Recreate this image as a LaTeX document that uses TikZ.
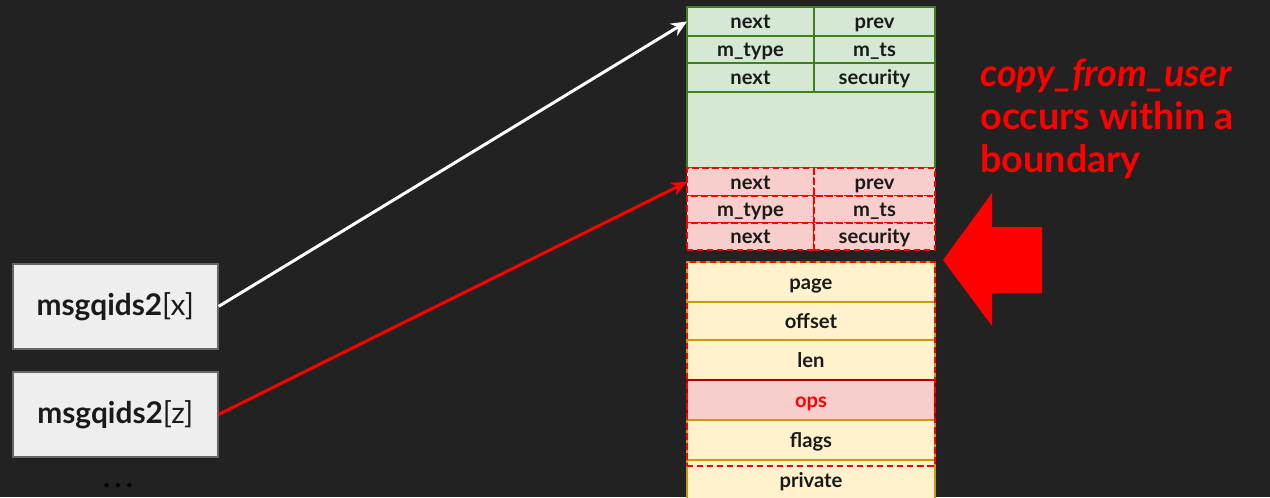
\documentclass[tikz,border=0pt]{standalone}
\usepackage{fontspec}
\setmainfont{Lato}
\usetikzlibrary{positioning}
\usetikzlibrary{arrows.meta}
\definecolor{bgdark}{HTML}{222222}
\definecolor{msgFill}{HTML}{D5E8D4}
\definecolor{msgLine}{HTML}{3F7F1F}
\definecolor{segFill}{HTML}{F8CECC}
\definecolor{segRed}{HTML}{FF0000}
\definecolor{pipeFill}{HTML}{FFF2CC}
\definecolor{pipeLine}{HTML}{C99A0C}
\definecolor{opsLine}{HTML}{B00000}
\definecolor{slotFill}{HTML}{EEEEEE}
\definecolor{slotLine}{HTML}{666666}
\definecolor{inkText}{HTML}{1A1A1A}
\tikzstyle{cell}=[draw,line width=1pt,inner sep=0pt,outer sep=0pt,anchor=north west,text=inkText,text height=8pt,text depth=0pt,font=\fontsize{11.5}{13}\selectfont\bfseries]
\tikzstyle{msgcell}=[cell,fill=msgFill,draw=msgLine]
\tikzstyle{segcell}=[cell,fill=segFill,draw=segRed,dash pattern=on 3.5pt off 2.2pt]
\tikzstyle{pipecell}=[cell,fill=pipeFill,draw=pipeLine,minimum width=4.96cm]
\tikzstyle{slot}=[draw=slotLine,fill=slotFill,line width=1pt,anchor=north west,minimum width=4.1cm,minimum height=1.7cm,text=inkText,font=\fontsize{17}{20}\selectfont]

\begin{document}
\begin{tikzpicture}[x=0.02cm,y=-0.02cm]
\useasboundingbox (0,0) rectangle (1270,497);
\fill[bgdark] (0,0) rectangle (1270,497);
% msg_msg
\node [msgcell,minimum width=4.96cm,minimum height=3.22cm] (msg) at (687,7) {};
\node [msgcell,minimum width=2.54cm,minimum height=0.58cm] (n1) at (687,7) {next};
\node [msgcell,minimum width=2.42cm,minimum height=0.58cm] (p1) at (814,7) {prev};
\node [msgcell,minimum width=2.54cm,minimum height=0.54cm] (t1) at (687,36) {m\_type};
\node [msgcell,minimum width=2.42cm,minimum height=0.54cm] (s1) at (814,36) {m\_ts};
\node [msgcell,minimum width=2.54cm,minimum height=0.58cm] (x1) at (687,63) {next};
\node [msgcell,minimum width=2.42cm,minimum height=0.58cm] (c1) at (814,63) {security};
% overflow into next object
\node [segcell,minimum width=2.54cm,minimum height=0.56cm] (n2) at (687,168) {next};
\node [segcell,minimum width=2.42cm,minimum height=0.56cm] (p2) at (814,168) {prev};
\node [segcell,minimum width=2.54cm,minimum height=0.54cm] (t2) at (687,196) {m\_type};
\node [segcell,minimum width=2.42cm,minimum height=0.54cm] (s2) at (814,196) {m\_ts};
\node [segcell,minimum width=2.54cm,minimum height=0.54cm] (x2) at (687,223) {next};
\node [segcell,minimum width=2.42cm,minimum height=0.54cm] (c2) at (814,223) {security};
% pipe_buffer
\node [pipecell,minimum height=0.8cm] (page) at (687,262) {page};
\node [pipecell,minimum height=0.76cm] (offset) at (687,302) {offset};
\node [pipecell,minimum height=0.8cm] (len) at (687,340) {len};
\node [pipecell,minimum height=0.8cm,fill=segFill,draw=opsLine,text=segRed] (ops) at (687,380) {ops};
\node [pipecell,minimum height=0.8cm] (flags) at (687,420) {flags};
\node [pipecell,minimum height=0.8cm] (private) at (687,460) {private};
\node [cell,draw=segRed,dash pattern=on 3.5pt off 2.2pt,minimum width=4.96cm,minimum height=4.08cm] (bound) at (687,262) {};
% queues
\node [slot] (qx) at (12,263) {\textbf{msgqids2}[x]};
\node [slot] (qz) at (12,371) {\textbf{msgqids2}[z]};
\node [text=black,font=\fontsize{16}{19}\selectfont\bfseries] (dots) at (118,486) {.\,.\,.};
\draw [white,line width=1.7pt,-{Stealth[length=9pt,width=8pt]}] (qx.east) -- (n1.west);
\draw [segRed,line width=1.7pt,-{Stealth[length=9pt,width=8pt]}] (qz.east) -- (n2.west);
% big arrow
\fill[segRed] (943,260) -- (992,193) -- (992,227) -- (1042,227) -- (1042,293) -- (992,293) -- (992,326) -- cycle;
\node [anchor=north west,align=left,text=segRed,inner sep=0pt,font=\fontsize{21.5}{24.5}\selectfont\bfseries] (note) at (980,58) {\textit{copy\_from\_user}\\occurs within a\\boundary};
\end{tikzpicture}
\end{document}
